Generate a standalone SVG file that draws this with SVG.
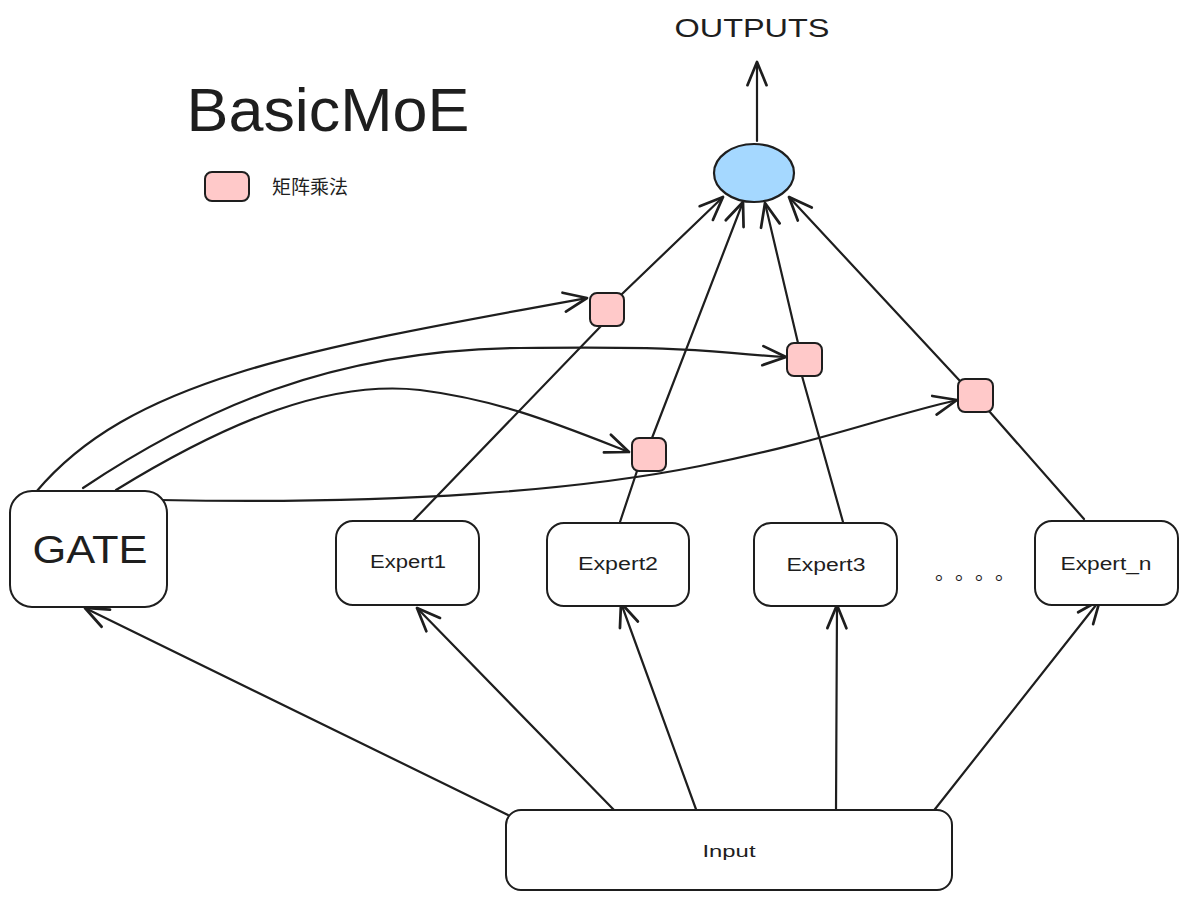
<svg xmlns="http://www.w3.org/2000/svg" width="1188" height="901" viewBox="0 0 1188 901">
<defs>
<marker id="arr" markerUnits="userSpaceOnUse" markerWidth="30" markerHeight="30" refX="0" refY="0" viewBox="-20 -10 22 20" orient="auto" overflow="visible">
<path d="M-17,-7 L0,0 L-17,7" fill="none" stroke="#1e1e1e" stroke-width="2" stroke-linecap="round" stroke-linejoin="round"/>
</marker>
</defs>
<style>
.box{fill:#ffffff;stroke:#1e1e1e;stroke-width:2}
.mul{fill:#ffc9c9;stroke:#1e1e1e;stroke-width:2}
.t{font-family:"Liberation Sans","Noto Sans CJK SC",sans-serif;fill:#1e1e1e;text-anchor:middle}
.c{fill:none;stroke:#1e1e1e;stroke-width:2.2;stroke-linecap:round}
.a{marker-end:url(#arr)}
</style>
<rect width="1188" height="901" fill="#ffffff"/>

<g id="title"><text class="t" x="328" y="131" font-size="62" textLength="283" lengthAdjust="spacingAndGlyphs">BasicMoE</text></g>
<g id="legend">
<rect class="mul" x="205" y="172" width="44" height="29" rx="7"/>
<text class="t" x="310" y="194" font-size="19" text-anchor="middle">矩阵乘法</text>
</g>
<g id="outputs-label"><text class="t" x="752" y="37" font-size="26" textLength="155" lengthAdjust="spacingAndGlyphs">OUTPUTS</text></g>

<g id="connectors">
<path class="c a" d="M757,141 L757,62"/>
<path class="c a" d="M622,294 L723,197"/>
<path class="c a" d="M652,438 L743,202"/>
<path class="c a" d="M798,343 L765,203"/>
<path class="c a" d="M960,381 L789,197"/>
<path class="c" d="M413,521 L602,325"/>
<path class="c" d="M620,522 L637,471"/>
<path class="c" d="M843,522 L802,376"/>
<path class="c" d="M1084,519 L989,411"/>
<path class="c a" d="M36,492 C130,380 300,350 587,298"/>
<path class="c a" d="M83,488 C200,410 330,350 520,348 S700,352 786,357"/>
<path class="c a" d="M116,490 C230,420 330,380 420,390 C500,400 560,425 629,452"/>
<path class="c a" d="M160,500 C400,505 580,490 700,466 S880,418 957,400"/>
<path class="c a" d="M508,815 L85,608"/>
<path class="c a" d="M614,810 L417,608"/>
<path class="c a" d="M697,812 L621,603"/>
<path class="c a" d="M836,812 L837,605"/>
<path class="c a" d="M928,818 L1100,600"/>
</g>

<g id="out"><ellipse cx="754" cy="173" rx="40" ry="29" fill="#a5d8ff" stroke="#1e1e1e" stroke-width="2.2"/></g>
<g id="mul1"><rect class="mul" x="590" y="293" width="34" height="33" rx="7"/></g>
<g id="mul2"><rect class="mul" x="787" y="343" width="35" height="33" rx="7"/></g>
<g id="mul3"><rect class="mul" x="632" y="438" width="34" height="33" rx="7"/></g>
<g id="mul4"><rect class="mul" x="958" y="379" width="35" height="33" rx="7"/></g>

<g id="gate"><rect class="box" x="10" y="491" width="157" height="116" rx="22"/>
<text class="t" x="90" y="563" font-size="38" textLength="115" lengthAdjust="spacingAndGlyphs">GATE</text></g>
<g id="expert1"><rect class="box" x="336" y="521" width="143" height="84" rx="17"/>
<text class="t" x="408" y="568" font-size="18" textLength="76" lengthAdjust="spacingAndGlyphs">Expert1</text></g>
<g id="expert2"><rect class="box" x="547" y="523" width="142" height="83" rx="17"/>
<text class="t" x="618" y="570" font-size="18" textLength="80" lengthAdjust="spacingAndGlyphs">Expert2</text></g>
<g id="expert3"><rect class="box" x="754" y="523" width="143" height="83" rx="17"/>
<text class="t" x="826" y="571" font-size="18" textLength="79" lengthAdjust="spacingAndGlyphs">Expert3</text></g>
<g id="dots"><text class="t" x="975" y="580" font-size="20" textLength="80" lengthAdjust="spacing" font-family="'Noto Sans CJK SC',sans-serif">。。。。</text></g>
<g id="expertn"><rect class="box" x="1035" y="521" width="143" height="84" rx="17"/>
<text class="t" x="1106" y="570" font-size="18" textLength="91" lengthAdjust="spacingAndGlyphs">Expert_n</text></g>
<g id="input"><rect class="box" x="506" y="810" width="446" height="80" rx="15"/>
<text class="t" x="729" y="857" font-size="17" textLength="53" lengthAdjust="spacingAndGlyphs">Input</text></g>
</svg>
